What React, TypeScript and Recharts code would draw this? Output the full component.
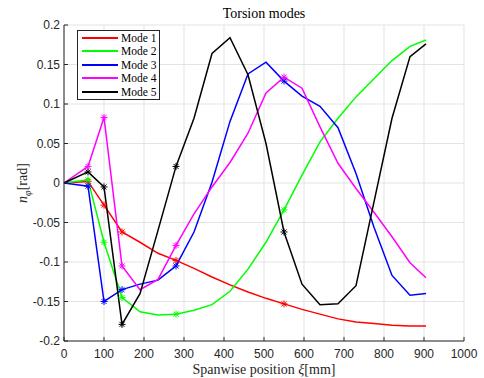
import React from "react";
import { LineChart, Line, XAxis, YAxis, CartesianGrid } from "recharts";

// spanwise stations [mm]
const positions = [
  0, 60, 100, 145, 190, 235, 280, 325, 370, 415, 460, 505, 550, 595, 640, 685,
  730, 775, 820, 865, 905,
];

const mode1 = [
  0, 0.002, -0.028, -0.062, -0.075, -0.089, -0.098, -0.108, -0.119, -0.129,
  -0.138, -0.146, -0.153, -0.16, -0.166, -0.172, -0.176, -0.178, -0.18, -0.181,
  -0.181,
];
const mode2 = [
  0, 0.004, -0.075, -0.145, -0.163, -0.167, -0.166, -0.161, -0.154, -0.137,
  -0.109, -0.075, -0.034, 0.01, 0.052, 0.082, 0.109, 0.132, 0.155, 0.173, 0.181,
];
const mode3 = [
  0, -0.004, -0.15, -0.135, -0.128, -0.123, -0.105, -0.062, 0.001, 0.078,
  0.138, 0.153, 0.129, 0.11, 0.097, 0.07, 0.012, -0.056, -0.117, -0.142, -0.14,
];
const mode4 = [
  0, 0.021, 0.083, -0.105, -0.135, -0.122, -0.079, -0.039, -0.005, 0.026,
  0.063, 0.114, 0.134, 0.12, 0.071, 0.025, -0.007, -0.037, -0.068, -0.101,
  -0.12,
];
const mode5 = [
  0, 0.014, -0.005, -0.179, -0.14, -0.06, 0.021, 0.082, 0.164, 0.184, 0.137,
  0.05, -0.062, -0.128, -0.154, -0.153, -0.13, -0.024, 0.082, 0.16, 0.176,
];

// stations where sensors sit (asterisk markers)
const sensorPositions = [60, 100, 145, 280, 550];

const xTicks = [0, 100, 200, 300, 400, 500, 600, 700, 800, 900, 1000];
const yTicks = [-0.2, -0.15, -0.1, -0.05, 0, 0.05, 0.1, 0.15, 0.2];

const modes = [
  { key: "mode1", name: "Mode 1", color: "#ff0000" },
  { key: "mode2", name: "Mode 2", color: "#00ff00" },
  { key: "mode3", name: "Mode 3", color: "#0000ff" },
  { key: "mode4", name: "Mode 4", color: "#ff00ff" },
  { key: "mode5", name: "Mode 5", color: "#000000" },
];

const data = positions.map((x, i) => ({
  x,
  mode1: mode1[i],
  mode2: mode2[i],
  mode3: mode3[i],
  mode4: mode4[i],
  mode5: mode5[i],
}));

const axisColor = "#262626";
const tickFont = {
  fontFamily: "'Liberation Sans', Arial, sans-serif",
  fontSize: 12,
  fill: axisColor,
};
const serif = "'Liberation Serif', 'Times New Roman', serif";

const asterisk = (color: string) => (props: any) => {
  const { cx, cy, payload } = props;
  if (!sensorPositions.includes(payload.x)) return <g />;
  const r = 3.5;
  const d = r * 0.72;
  return (
    <g stroke={color} strokeWidth={1}>
      <line x1={cx - r} y1={cy} x2={cx + r} y2={cy} />
      <line x1={cx} y1={cy - r} x2={cx} y2={cy + r} />
      <line x1={cx - d} y1={cy - d} x2={cx + d} y2={cy + d} />
      <line x1={cx - d} y1={cy + d} x2={cx + d} y2={cy - d} />
    </g>
  );
};

const ModeLegend = () => (
  <div
    style={{
      position: "absolute",
      left: 77,
      top: 30,
      width: 83,
      height: 70,
      border: `1px solid ${axisColor}`,
      background: "#fff",
      boxSizing: "border-box",
    }}
  >
    <svg width={81} height={68} style={{ position: "absolute", left: 0, top: 0 }}>
      {modes.map((m, i) => {
        const y = Math.round(7 + i * 13.4);
        return (
          <g key={m.key}>
            <line x1={4} x2={40} y1={y} y2={y} stroke={m.color} strokeWidth={2} />
            <text
              x={43}
              y={y + 4}
              fontFamily={serif}
              fontSize={11.5}
              fill="#000"
            >
              {m.name}
            </text>
          </g>
        );
      })}
    </svg>
  </div>
);

const TorsionModes = () => {
  return (
    <div
      style={{
        position: "absolute",
        left: 0,
        top: 0,
        width: 484,
        height: 378,
        background: "#fff",
      }}
    >
      <LineChart
        width={484}
        height={378}
        data={data}
        margin={{ top: 25, right: 20, bottom: 0, left: 0 }}
      >
        <CartesianGrid stroke="#e3e3e3" strokeWidth={1} />
        <XAxis
          dataKey="x"
          type="number"
          domain={[0, 1000]}
          ticks={xTicks}
          interval={0}
          height={37}
          tick={tickFont}
          tickSize={-4}
          tickMargin={12}
          axisLine={{ stroke: axisColor }}
          tickLine={{ stroke: axisColor }}
        />
        <XAxis
          xAxisId="top"
          orientation="top"
          dataKey="x"
          type="number"
          domain={[0, 1000]}
          ticks={xTicks}
          interval={0}
          height={0}
          mirror
          tickSize={4}
          tickFormatter={() => ""}
          axisLine={{ stroke: axisColor }}
          tickLine={{ stroke: axisColor }}
        />
        <YAxis
          type="number"
          domain={[-0.2, 0.2]}
          ticks={yTicks}
          interval={0}
          width={64}
          tick={tickFont}
          tickSize={-4}
          tickMargin={8}
          allowDataOverflow
          axisLine={{ stroke: axisColor }}
          tickLine={{ stroke: axisColor }}
        />
        <YAxis
          yAxisId="right"
          orientation="right"
          type="number"
          domain={[-0.2, 0.2]}
          ticks={yTicks}
          interval={0}
          width={0}
          mirror
          tickSize={4}
          tickFormatter={() => ""}
          axisLine={{ stroke: axisColor }}
          tickLine={{ stroke: axisColor }}
        />
        {modes.map((m) => (
          <Line
            key={m.key}
            type="linear"
            dataKey={m.key}
            name={m.name}
            stroke={m.color}
            strokeWidth={1.5}
            dot={asterisk(m.color)}
            activeDot={false}
            isAnimationActive={false}
          />
        ))}
      </LineChart>
      <div
        style={{
          position: "absolute",
          left: 64,
          top: 6,
          width: 400,
          textAlign: "center",
          fontFamily: serif,
          fontSize: 14,
          lineHeight: "16px",
          color: "#000",
        }}
      >
        Torsion modes
      </div>
      <div
        style={{
          position: "absolute",
          left: 64,
          top: 362,
          width: 400,
          textAlign: "center",
          fontFamily: serif,
          fontSize: 14,
          lineHeight: "16px",
          color: axisColor,
        }}
      >
        Spanwise position <i>ξ</i>[mm]
      </div>
      <div
        style={{
          position: "absolute",
          left: -27,
          top: 175,
          width: 100,
          height: 16,
          textAlign: "center",
          transform: "rotate(-90deg)",
          fontFamily: serif,
          fontSize: 14,
          lineHeight: "16px",
          color: axisColor,
          whiteSpace: "nowrap",
        }}
      >
        <i>n</i>
        <sub style={{ fontSize: 10 }}>
          <i>φ</i>
        </sub>
        [rad]
      </div>
      <ModeLegend />
    </div>
  );
};

export default TorsionModes;
